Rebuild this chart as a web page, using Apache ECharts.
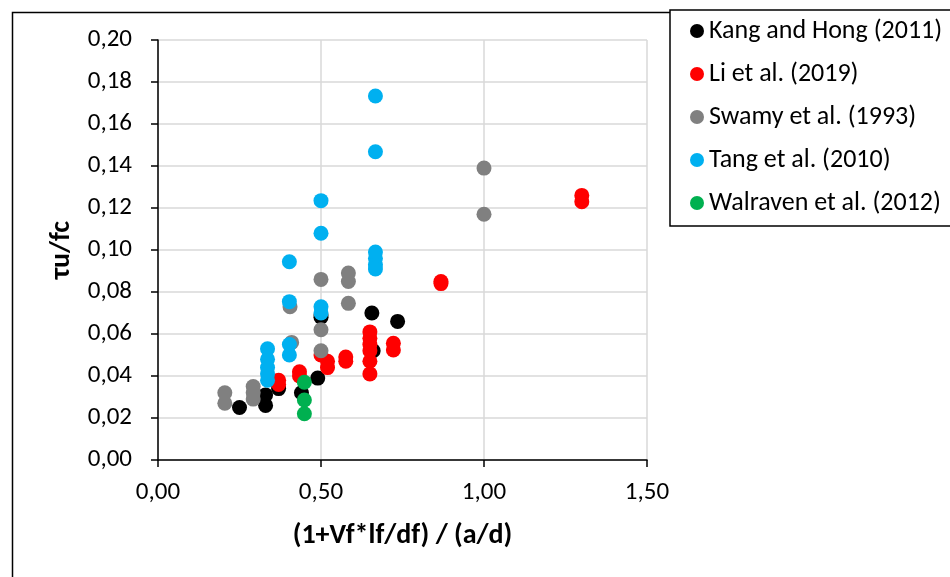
<!DOCTYPE html>
<html>
<head>
<meta charset="utf-8">
<title>τu/fc</title>
<script src="https://cdn.jsdelivr.net/npm/echarts@6/dist/echarts.min.js"></script>
<style>
    html, body { margin: 0; padding: 0; background: #fff; }
    #main { width: 950px; height: 577px; }
</style>
</head>
<body>
<div id="main"></div>
<script>
// 数据 [x, y]
var seriesNames = ['Kang and Hong (2011)', 'Li et al. (2019)', 'Swamy et al. (1993)', 'Tang et al. (2010)', 'Walraven et al. (2012)'];
var seriesColors = ['#000000', '#FF0000', '#808080', '#00B0F0', '#00B050'];

var kangHong = [
    [0.25, 0.025], [0.33, 0.026], [0.33, 0.031], [0.37, 0.034], [0.44, 0.032], [0.49, 0.039],
    [0.50, 0.068], [0.50, 0.069], [0.656, 0.070], [0.735, 0.066], [0.66, 0.052]
];
var liEtAl = [
    [0.37, 0.038], [0.37, 0.036], [0.434, 0.042], [0.434, 0.040], [0.50, 0.050], [0.52, 0.047],
    [0.52, 0.044], [0.576, 0.049], [0.576, 0.047], [0.65, 0.061], [0.65, 0.058], [0.65, 0.055],
    [0.65, 0.052], [0.65, 0.047], [0.65, 0.041], [0.722, 0.0556], [0.722, 0.0524],
    [0.868, 0.085], [0.868, 0.084], [1.30, 0.126], [1.30, 0.123]
];
var swamy = [
    [0.205, 0.032], [0.205, 0.027], [0.292, 0.035], [0.292, 0.032], [0.292, 0.029], [0.405, 0.073],
    [0.41, 0.056], [0.50, 0.086], [0.50, 0.062], [0.50, 0.052], [0.584, 0.089], [0.584, 0.085],
    [0.584, 0.0746], [1.00, 0.139], [1.00, 0.117]
];
var tang = [
    [0.336, 0.053], [0.336, 0.048], [0.336, 0.044], [0.336, 0.041], [0.336, 0.038], [0.403, 0.0754],
    [0.403, 0.0944], [0.403, 0.055], [0.403, 0.050], [0.50, 0.1235], [0.50, 0.108], [0.50, 0.073],
    [0.50, 0.070], [0.667, 0.1733], [0.667, 0.1468], [0.667, 0.099], [0.667, 0.096],
    [0.667, 0.093], [0.667, 0.091]
];
var walraven = [
    [0.449, 0.037], [0.449, 0.0286], [0.449, 0.022]
];
var allData = [kangHong, liEtAl, swamy, tang, walraven];

var fontName = 'Carlito, Lato, sans-serif';

function commaLabel(value) {
    return value.toFixed(2).replace('.', ',');
}

var myChart = echarts.init(document.getElementById('main'));

var seriesList = [];
for (var i = 0; i < seriesNames.length; i++) {
    seriesList.push({
        name: seriesNames[i],
        type: 'scatter',
        symbol: 'circle',
        symbolSize: 15,
        itemStyle: { color: seriesColors[i], opacity: 1 },
        data: allData[i]
    });
}

var option = {
    animation: false,
    backgroundColor: '#ffffff',
    textStyle: { fontFamily: fontName },
    graphic: [{
        // 外框
        type: 'rect',
        left: 10,
        top: 10,
        z: -1,
        shape: { width: 1000, height: 1000 },
        style: { fill: 'none', stroke: '#000', lineWidth: 1.5 }
    }],
    legend: {
        orient: 'vertical',
        left: 670,
        top: 10,
        data: seriesNames,
        icon: 'circle',
        itemWidth: 14,
        itemHeight: 14,
        itemGap: 15,
        padding: [7, 40, 9, 20],
        backgroundColor: '#ffffff',
        borderColor: '#000',
        borderWidth: 1.5,
        textStyle: { fontFamily: fontName, fontSize: 26, color: '#000', lineHeight: 28 }
    },
    grid: {
        left: 158,
        right: 303,
        top: 40,
        bottom: 117
    },
    xAxis: {
        type: 'value',
        min: 0,
        max: 1.5,
        interval: 0.5,
        name: '(1+Vf*lf/df) / (a/d)',
        nameLocation: 'middle',
        nameGap: 62,
        nameTextStyle: { fontFamily: fontName, fontSize: 28, fontWeight: 'bold', color: '#000' },
        axisLine: { lineStyle: { color: '#000', width: 1.5 } },
        axisTick: { show: true, inside: false, length: 7, lineStyle: { color: '#000', width: 1.5 } },
        axisLabel: { fontFamily: fontName, fontSize: 25, color: '#000', margin: 20, formatter: commaLabel },
        splitLine: { show: true, lineStyle: { color: '#d9d9d9', width: 1.5 } }
    },
    yAxis: {
        type: 'value',
        min: 0,
        max: 0.2,
        interval: 0.02,
        name: 'τu/fc',
        nameLocation: 'middle',
        nameGap: 82,
        nameTextStyle: { fontFamily: fontName, fontSize: 28, fontWeight: 'bold', color: '#000' },
        axisLine: { show: true, lineStyle: { color: '#000', width: 1.5 } },
        axisTick: { show: true, inside: false, length: 7, lineStyle: { color: '#000', width: 1.5 } },
        axisLabel: { fontFamily: fontName, fontSize: 25, color: '#000', margin: 26, formatter: commaLabel },
        splitLine: { show: true, lineStyle: { color: '#d9d9d9', width: 1.5 } }
    },
    series: seriesList
};

myChart.setOption(option);
</script>
</body>
</html>
